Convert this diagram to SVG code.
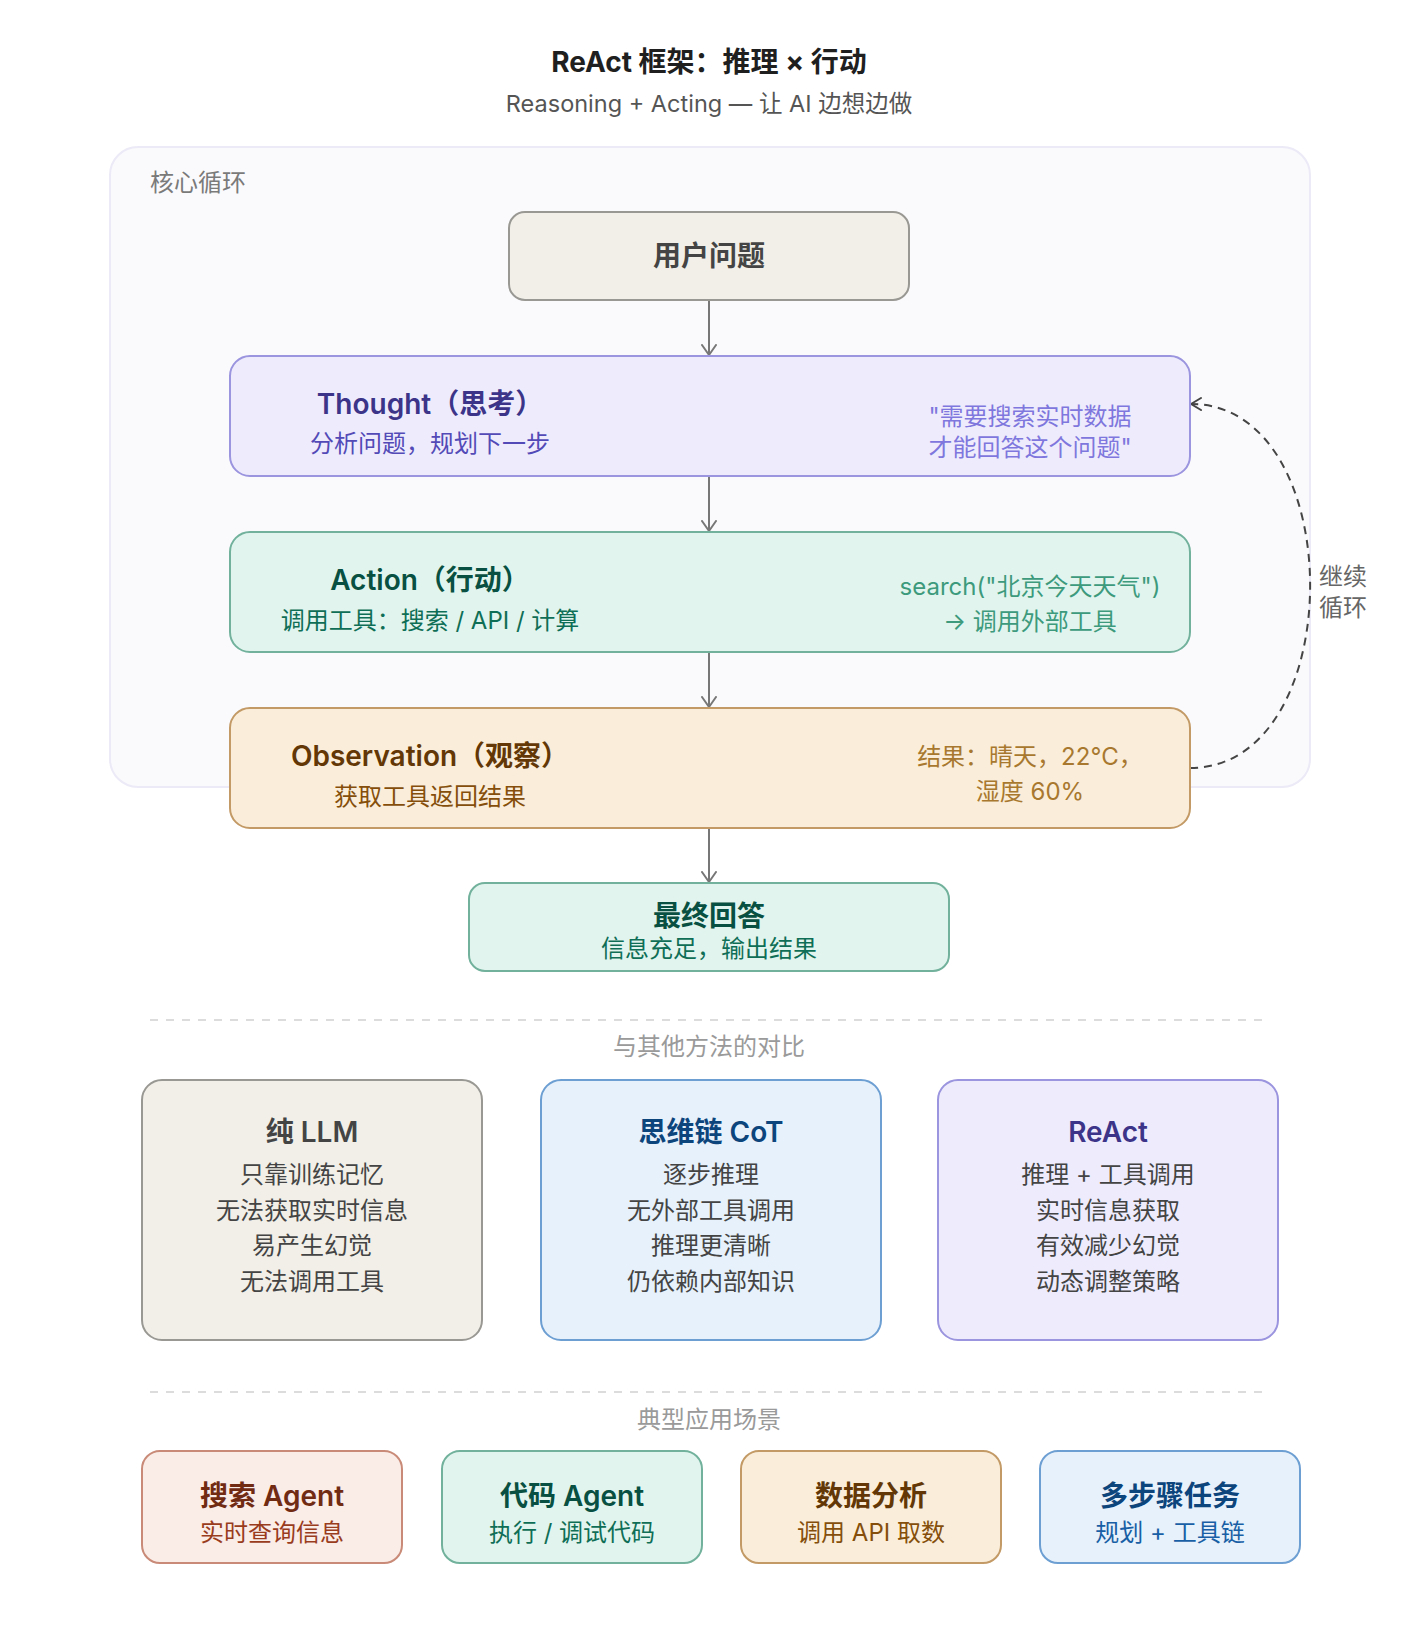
<svg xmlns="http://www.w3.org/2000/svg" width="1418" height="1640" viewBox="0 0 1418 1640">
<defs>
<style>
text{font-family:Inter,"Noto Sans CJK SC",sans-serif;}
.t-main{font-size:28px;font-weight:700;fill:#1f1f1f;text-anchor:middle;}
.t-sub{font-size:23.5px;fill:#555;text-anchor:middle;}
.lbl{font-size:24px;fill:#7a7a7a;}
.sec{font-size:24px;fill:#9a9a9a;text-anchor:middle;}
.h{font-size:28px;font-weight:600;text-anchor:middle;}
.s{font-size:24px;text-anchor:middle;}
.box{stroke-width:2;}
.gray{fill:#f1efe8;stroke:#9a9893;}
.purple{fill:#eeecfc;stroke:#9b94de;}
.teal{fill:#e1f5ee;stroke:#72b29c;}
.amber{fill:#faeeda;stroke:#c39a66;}
.blue{fill:#e6f1fb;stroke:#6d9fd3;}
.coral{fill:#faece7;stroke:#c98b78;}
.arrow{stroke:#777;stroke-width:2;fill:none;}
.sep{stroke:#dcdcdc;stroke-width:2;stroke-dasharray:8 8;}
</style>
<marker id="ah" markerUnits="userSpaceOnUse" viewBox="0 0 12 16" markerWidth="12" markerHeight="16" refX="11" refY="8" orient="auto">
<path d="M1,1 L11,8 L1,15" fill="none" stroke="#777" stroke-width="2" stroke-linecap="round" stroke-linejoin="round"/>
</marker>
<marker id="ahd" markerUnits="userSpaceOnUse" viewBox="0 0 12 16" markerWidth="12" markerHeight="16" refX="11" refY="8" orient="auto">
<path d="M1,2 L11,8 L1,14" fill="none" stroke="#444" stroke-width="2" stroke-dasharray="none" stroke-linecap="round" stroke-linejoin="round"/>
</marker>
</defs>
<rect width="1418" height="1640" fill="#ffffff"/>

<g id="header">
<text class="t-main" x="709" y="72">ReAct 框架：推理 × 行动</text>
<text class="t-sub" x="709" y="112">Reasoning + Acting — 让 AI 边想边做</text>
</g>

<g id="core-loop">
<rect x="110" y="147" width="1200" height="640" rx="28" fill="#fafafd" stroke="#ebeaf6" stroke-width="2"/>
<text class="lbl" x="150" y="191">核心循环</text>
</g>

<g id="connectors">
<line class="arrow" x1="709" y1="300" x2="709" y2="355" marker-end="url(#ah)"/>
<line class="arrow" x1="709" y1="476" x2="709" y2="531" marker-end="url(#ah)"/>
<line class="arrow" x1="709" y1="652" x2="709" y2="707" marker-end="url(#ah)"/>
<line class="arrow" x1="709" y1="828" x2="709" y2="882" marker-end="url(#ah)"/>
<path d="M1190,768 C1350,768 1350,404 1191,404" fill="none" stroke="#444" stroke-width="2" stroke-dasharray="8 6" marker-end="url(#ahd)"/>
<text font-size="24" fill="#666" x="1319" y="585">继续</text>
<text font-size="24" fill="#666" x="1319" y="616">循环</text>
</g>

<g id="node-user">
<rect class="box gray" x="509" y="212" width="400" height="88" rx="16"/>
<text class="h" x="709" y="266" fill="#444">用户问题</text>
</g>

<g id="node-thought">
<rect class="box purple" x="230" y="356" width="960" height="120" rx="20"/>
<text class="h" x="430" y="414" fill="#3c3489">Thought（思考）</text>
<text class="s" x="430" y="452" fill="#534ab7">分析问题，规划下一步</text>
<text class="s" x="1030" y="425" fill="#7f77dd">"需要搜索实时数据</text>
<text class="s" x="1030" y="456" fill="#7f77dd">才能回答这个问题"</text>
</g>

<g id="node-action">
<rect class="box teal" x="230" y="532" width="960" height="120" rx="20"/>
<text class="h" x="430" y="590" fill="#085041">Action（行动）</text>
<text class="s" x="430" y="629" fill="#0f6e56">调用工具：搜索 / API / 计算</text>
<text class="s" x="1030" y="595" fill="#3d9a7c">search("北京今天天气")</text>
<text class="s" x="1030" y="630" fill="#3d9a7c">→ 调用外部工具</text>
</g>

<g id="node-observation">
<rect class="box amber" x="230" y="708" width="960" height="120" rx="20"/>
<text class="h" x="430" y="766" fill="#633806">Observation（观察）</text>
<text class="s" x="430" y="805" fill="#854f0b">获取工具返回结果</text>
<text class="s" x="1030" y="765" fill="#a8782f">结果：晴天，22°C，</text>
<text class="s" x="1030" y="800" fill="#a8782f">湿度 60%</text>
</g>

<g id="node-final">
<rect class="box teal" x="469" y="883" width="480" height="88" rx="16"/>
<text class="h" x="709" y="926" fill="#085041">最终回答</text>
<text class="s" x="709" y="957" fill="#0f6e56">信息充足，输出结果</text>
</g>

<g id="section-compare">
<line class="sep" x1="150" y1="1020" x2="1268" y2="1020"/>
<text class="sec" x="709" y="1055">与其他方法的对比</text>
</g>

<g id="cmp-llm">
<rect class="box gray" x="142" y="1080" width="340" height="260" rx="20"/>
<text class="h" x="312" y="1142" fill="#444">纯 LLM</text>
<text class="s" x="312" y="1183" fill="#444">只靠训练记忆</text>
<text class="s" x="312" y="1219" fill="#444">无法获取实时信息</text>
<text class="s" x="312" y="1254" fill="#444">易产生幻觉</text>
<text class="s" x="312" y="1290" fill="#444">无法调用工具</text>
</g>

<g id="cmp-cot">
<rect class="box blue" x="541" y="1080" width="340" height="260" rx="20"/>
<text class="h" x="711" y="1142" fill="#0c447c">思维链 CoT</text>
<text class="s" x="711" y="1183" fill="#444">逐步推理</text>
<text class="s" x="711" y="1219" fill="#444">无外部工具调用</text>
<text class="s" x="711" y="1254" fill="#444">推理更清晰</text>
<text class="s" x="711" y="1290" fill="#444">仍依赖内部知识</text>
</g>

<g id="cmp-react">
<rect class="box purple" x="938" y="1080" width="340" height="260" rx="20"/>
<text class="h" x="1108" y="1142" fill="#3c3489">ReAct</text>
<text class="s" x="1108" y="1183" fill="#444">推理 + 工具调用</text>
<text class="s" x="1108" y="1219" fill="#444">实时信息获取</text>
<text class="s" x="1108" y="1254" fill="#444">有效减少幻觉</text>
<text class="s" x="1108" y="1290" fill="#444">动态调整策略</text>
</g>

<g id="section-apps">
<line class="sep" x1="150" y1="1392" x2="1268" y2="1392"/>
<text class="sec" x="709" y="1428">典型应用场景</text>
</g>

<g id="app-search">
<rect class="box coral" x="142" y="1451" width="260" height="112" rx="18"/>
<text class="h" x="272" y="1506" fill="#712b13">搜索 Agent</text>
<text class="s" x="272" y="1541" fill="#993c1d">实时查询信息</text>
</g>

<g id="app-code">
<rect class="box teal" x="442" y="1451" width="260" height="112" rx="18"/>
<text class="h" x="572" y="1506" fill="#085041">代码 Agent</text>
<text class="s" x="572" y="1541" fill="#0f6e56">执行 / 调试代码</text>
</g>

<g id="app-data">
<rect class="box amber" x="741" y="1451" width="260" height="112" rx="18"/>
<text class="h" x="871" y="1506" fill="#633806">数据分析</text>
<text class="s" x="871" y="1541" fill="#854f0b">调用 API 取数</text>
</g>

<g id="app-multistep">
<rect class="box blue" x="1040" y="1451" width="260" height="112" rx="18"/>
<text class="h" x="1170" y="1506" fill="#0c447c">多步骤任务</text>
<text class="s" x="1170" y="1541" fill="#185fa5">规划 + 工具链</text>
</g>
</svg>
